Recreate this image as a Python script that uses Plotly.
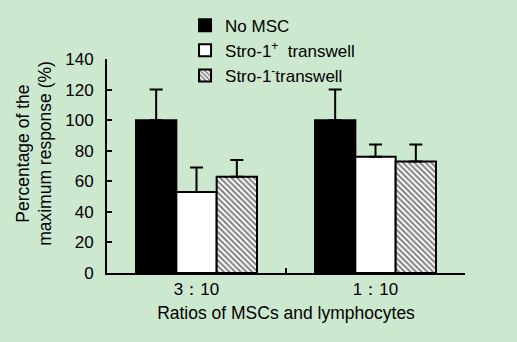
import plotly.graph_objects as go

categories = ["3：10", "1：10"]
series_names = ["No MSC", "Stro-1<sup>+</sup>  transwell", "Stro-1<sup>-</sup>transwell"]
no_msc = [100, 100]
no_msc_err = [20, 20]
stro_pos = [53, 76]
stro_pos_err = [16, 8]
stro_neg = [63, 73]
stro_neg_err = [11, 11]
y_ticks = [0, 20, 40, 60, 80, 100, 120, 140]

BG = "#CCE8CF"
FONT = "Arial, Liberation Sans, sans-serif"

def err(arr):
    return dict(type="data", array=arr, arrayminus=[0] * len(arr), symmetric=False,
                color="black", thickness=2, width=6.5)

fig = go.Figure()
fig.add_trace(go.Bar(name=series_names[0], x=categories, y=no_msc, error_y=err(no_msc_err),
                     marker=dict(color="black", line=dict(color="black", width=2))))
fig.add_trace(go.Bar(name=series_names[1], x=categories, y=stro_pos, error_y=err(stro_pos_err),
                     marker=dict(color="white", line=dict(color="black", width=2))))
fig.add_trace(go.Bar(name=series_names[2], x=categories, y=stro_neg, error_y=err(stro_neg_err),
                     marker=dict(color="white", line=dict(color="black", width=2),
                                 pattern=dict(shape="\\", fgcolor="black", bgcolor="white",
                                              size=4, solidity=0.5))))

fig.update_layout(
    width=517, height=342,
    margin=dict(l=107, r=52, t=58.6, b=69, autoexpand=False),
    paper_bgcolor=BG, plot_bgcolor=BG,
    font=dict(family=FONT, size=17, color="black"),
    barmode="group", bargap=0.324, bargroupgap=0,
    showlegend=True,
    legend=dict(x=0.218, y=1.24, xanchor="left", yanchor="top",
                bgcolor="rgba(0,0,0,0)", font=dict(size=17), tracegroupgap=0,
                itemsizing="constant"),
    xaxis=dict(showline=True, linecolor="black", linewidth=2, ticks="inside",
               tickson="boundaries", ticklen=5, tickwidth=2, tickcolor="black",
               showgrid=False, zeroline=False, tickfont=dict(size=17),
               automargin=False,
               title=dict(text="Ratios of MSCs and lymphocytes", font=dict(size=17.5), standoff=8)),
    yaxis=dict(range=[0, 140], tickvals=y_ticks, showline=True, linecolor="black", linewidth=2,
               ticks="inside", ticklen=5, tickwidth=2, tickcolor="black", automargin=False,
               showgrid=False, zeroline=False, tickfont=dict(size=17), ticklabelstandoff=8),
)

fig.add_annotation(text="Percentage of the", textangle=-90, xref="paper", yref="paper",
                   x=-0.235, y=0.557, xanchor="center", yanchor="middle", showarrow=False,
                   font=dict(size=17.5))
fig.add_annotation(text="maximum response (%)", textangle=-90, xref="paper", yref="paper",
                   x=-0.173, y=0.557, xanchor="center", yanchor="middle", showarrow=False,
                   font=dict(size=17.5))

fig.write_html("out.html", config={"displayModeBar": False},
               post_script="document.body.style.margin='0';document.body.style.background='%s';" % BG)
